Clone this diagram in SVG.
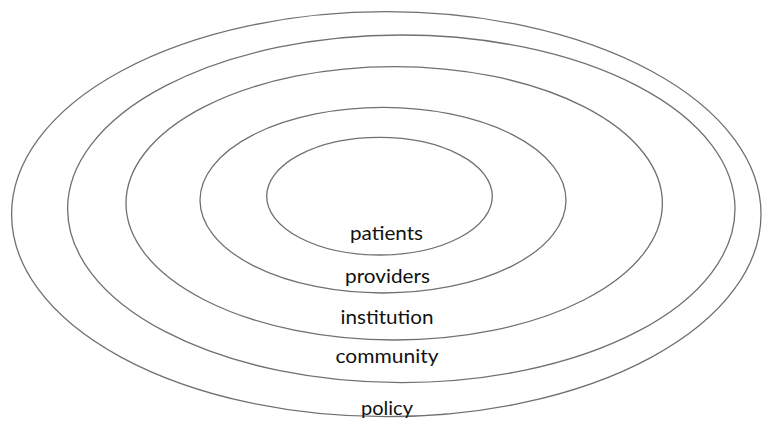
<svg xmlns="http://www.w3.org/2000/svg" width="762" height="422" viewBox="0 0 762 422">
<style>
.ring{fill:none;stroke:#707070;stroke-width:1.3}
.lbl{font-family:Lato,"Open Sans","Liberation Sans",sans-serif;font-size:20px;fill:#111;text-anchor:middle}
</style>
<rect width="762" height="422" fill="#fff"/>
<g id="policy">
<ellipse class="ring" cx="386.3" cy="214.2" rx="374.7" ry="202.5"/>
<text class="lbl" x="387" y="415" textLength="52" lengthAdjust="spacingAndGlyphs">policy</text>
</g>
<g id="community">
<ellipse class="ring" cx="401.3" cy="208.8" rx="333.7" ry="173.8"/>
<text class="lbl" x="387" y="363" textLength="103" lengthAdjust="spacingAndGlyphs">community</text>
</g>
<g id="institution">
<ellipse class="ring" cx="394.2" cy="203.3" rx="268.2" ry="136.7"/>
<text class="lbl" x="387" y="324" textLength="93" lengthAdjust="spacingAndGlyphs">institution</text>
</g>
<g id="providers">
<ellipse class="ring" cx="383" cy="200.2" rx="183" ry="92.8"/>
<text class="lbl" x="387.5" y="283" textLength="85" lengthAdjust="spacingAndGlyphs">providers</text>
</g>
<g id="patients">
<ellipse class="ring" cx="379.5" cy="196.2" rx="112.8" ry="58.8"/>
<text class="lbl" x="386.5" y="240" textLength="73" lengthAdjust="spacingAndGlyphs">patients</text>
</g>
<g id="connectors"/>
</svg>
